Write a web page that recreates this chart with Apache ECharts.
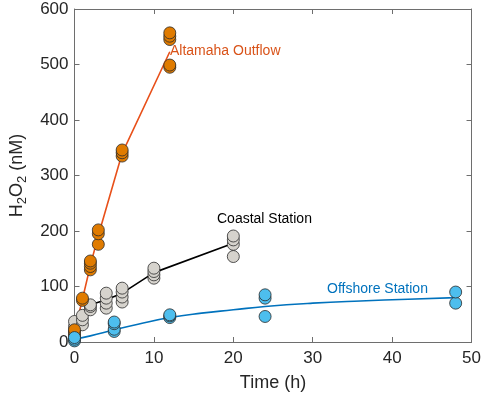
<!DOCTYPE html>
<html>
<head>
<meta charset="utf-8">
<script src="https://cdn.jsdelivr.net/npm/echarts@6/dist/echarts.min.js"></script>
<style>
  html, body { margin: 0; padding: 0; background: #fff; }
  #chart { width: 484px; height: 397px; }
</style>
</head>
<body>
<div id="chart"></div>
<script>
// time (h) / H2O2 (nM) pairs
var altamahaPts = [[0,12],[0,17],[0,22],[1,75],[1,79],[2,130],[2,136],[2,142],[2,146],
  [3,176],[3,195],[3,202],[6,335],[6,341],[6,346],[12,495],[12,499],[12,545],[12,551],[12,557]];
var altamahaLine = [[0,18],[1,77],[2,138],[3,192],[6,340],[12,523]];

var coastalPts = [[0,10],[0,20],[0,28],[0,37],[1,31],[1,40],[1,48],[2,58],[2,64],[2,67],
  [4,61],[4,70],[4,79],[4,88],[6,72],[6,81],[6,90],[6,97],[10,115],[10,121],[10,127],[10,133],
  [20,154],[20,176],[20,184],[20,191]];
var coastalLine = [[1,73],[2,67],[4,76],[6,88],[10,125],[20,178]];

var offshorePts = [[0,2],[0,5],[0,8],[5,19],[5,23],[5,33],[5,36],[12,44],[12,47],[12,49],
  [24,46],[24,79],[24,85],[48,70],[48,90]];
var offshoreLine = [[0,5],[2,11],[5,22],[8,32],[12,44],[16,52],[20,58],[24,64],[30,70],[36,74],[42,77],[48,80]];

var xTicks = [0, 10, 20, 30, 40, 50];
var yTicks = [0, 100, 200, 300, 400, 500, 600];

var myChart = echarts.init(document.getElementById('chart'));

var frame = '#6e6e6e';
var font = 'Liberation Sans, Arial, sans-serif';

function ptSeries(name, data, fill) {
    return {
        name: name, type: 'scatter', data: data, symbol: 'circle', symbolSize: 12,
        itemStyle: { color: fill, borderColor: '#2b2b2b', borderWidth: 0.8, opacity: 1 },
        z: 5, silent: true
    };
}
function lineSeries(name, data, color, smooth) {
    return {
        name: name, type: 'line', data: data, showSymbol: false, smooth: smooth,
        lineStyle: { color: color, width: 1.6 }, z: 3, silent: true
    };
}
function frameAxis(pos, min, max, step) {
    return {
        type: 'value', position: pos, min: min, max: max, interval: step,
        axisLine: { show: true, onZero: false, lineStyle: { color: frame, width: 1 } },
        axisTick: { show: true, inside: true, length: 5, lineStyle: { color: frame } },
        axisLabel: { show: false }, splitLine: { show: false }
    };
}

option = {
    animation: false,
    grid: { left: 70, right: 12, top: 9, bottom: 55 },
    textStyle: { fontFamily: font },
    xAxis: [{
        type: 'value', min: xTicks[0], max: xTicks[xTicks.length - 1], interval: 10,
        name: 'Time (h)', nameLocation: 'middle', nameGap: 32,
        nameTextStyle: { fontSize: 18, color: '#262626', fontFamily: font },
        axisLine: { onZero: false, lineStyle: { color: frame, width: 1 } },
        axisTick: { inside: true, length: 5, lineStyle: { color: frame } },
        axisLabel: { fontSize: 17, color: '#262626', margin: 8, fontFamily: font },
        splitLine: { show: false }
    }, frameAxis('top', xTicks[0], xTicks[xTicks.length - 1], 10)],
    yAxis: [{
        type: 'value', min: yTicks[0], max: yTicks[yTicks.length - 1], interval: 100,
        name: 'H{sub|2}O{sub|2} (nM)', nameLocation: 'middle', nameGap: 46,
        nameTextStyle: {
            fontSize: 18, color: '#262626', fontFamily: font,
            rich: { sub: { fontSize: 13, verticalAlign: 'bottom', padding: [10, 0, 0, 0], color: '#262626', fontFamily: font } }
        },
        axisLine: { show: true, onZero: false, lineStyle: { color: frame, width: 1 } },
        axisTick: { show: true, inside: true, length: 5, lineStyle: { color: frame } },
        axisLabel: { fontSize: 17, color: '#262626', margin: 6, fontFamily: font },
        splitLine: { show: false }
    }, frameAxis('right', yTicks[0], yTicks[yTicks.length - 1], 100)],
    graphic: [
        { type: 'text', left: 170, top: 44, style: { text: 'Altamaha Outflow', fill: '#D95319', font: '14px ' + font } },
        { type: 'text', left: 217, top: 212, style: { text: 'Coastal Station', fill: '#000000', font: '14px ' + font } },
        { type: 'text', left: 327, top: 282, style: { text: 'Offshore Station', fill: '#0072BD', font: '14px ' + font } }
    ],
    series: [
        lineSeries('Coastal Station', coastalLine, '#000000', false),
        lineSeries('Altamaha Outflow', altamahaLine, '#E8501A', false),
        lineSeries('Offshore Station', offshoreLine, '#0072BD', true),
        ptSeries('Coastal Station pts', coastalPts, '#D6D3CD'),
        ptSeries('Altamaha Outflow pts', altamahaPts, '#E07B00'),
        ptSeries('Offshore Station pts', offshorePts, '#4DBEEE')
    ]
};

myChart.setOption(option);
</script>
</body>
</html>
